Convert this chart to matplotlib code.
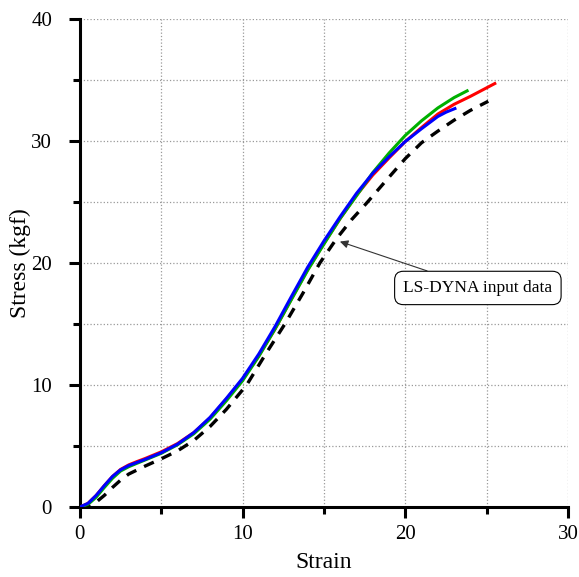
"""
Curva esfuerzo-deformacion: simulaciones vs datos de entrada LS-DYNA
"""
import numpy as np
import matplotlib.pyplot as plt

# curvas
x_azul = [0, 0.5, 1.0, 1.5, 2.0, 2.5, 3.0, 3.5, 4.0, 5.0, 6.0, 7.0, 8.0, 9.0, 10.0, 11.0,
          12.0, 13.0, 14.0, 15.0, 16.0, 17.0, 18.0, 19.0, 20.0, 21.0, 22.0, 22.5, 23.05]
y_azul = [0, 0.3, 0.95, 1.75, 2.5, 3.05, 3.4, 3.65, 3.9, 4.45, 5.15, 6.1, 7.35, 8.9, 10.55, 12.55,
          14.8, 17.25, 19.65, 21.8, 23.8, 25.7, 27.35, 28.7, 29.95, 31.0, 32.0, 32.35, 32.65]

x_verde = [0, 0.5, 1.0, 1.5, 2.0, 2.5, 3.0, 3.5, 4.0, 5.0, 6.0, 7.0, 8.0, 9.0, 10.0, 11.0,
           12.0, 13.0, 14.0, 15.0, 16.0, 17.0, 18.0, 19.0, 20.0, 21.0, 22.0, 23.0, 23.8]
y_verde = [0, 0.22, 0.8, 1.6, 2.35, 2.95, 3.3, 3.58, 3.85, 4.4, 5.1, 6.0, 7.2, 8.7, 10.35, 12.35,
           14.6, 17.0, 19.4, 21.55, 23.65, 25.5, 27.4, 29.0, 30.45, 31.65, 32.7, 33.55, 34.1]

x_rojo = [0, 0.5, 1.0, 1.5, 2.0, 2.5, 3.0, 3.5, 4.0, 5.0, 6.0, 7.0, 8.0, 9.0, 10.0, 11.0,
          12.0, 13.0, 14.0, 15.0, 16.0, 17.0, 18.0, 19.0, 20.0, 21.0, 22.0, 23.0, 24.0, 25.0, 25.5]
y_rojo = [0, 0.3, 0.95, 1.75, 2.5, 3.08, 3.45, 3.72, 3.97, 4.52, 5.2, 6.1, 7.3, 8.85, 10.45, 12.4,
          14.6, 17.05, 19.45, 21.6, 23.65, 25.55, 27.2, 28.6, 29.95, 31.1, 32.2, 33.0, 33.65, 34.35, 34.7]

x_lsdyna = [0, 0.5, 1.0, 1.5, 2.0, 2.5, 3.0, 4.0, 5.0, 6.0, 7.0, 8.0, 9.0, 10.25, 11.4,
            12.6, 13.7, 14.75, 15.78, 16.7, 17.62, 18.85, 20.0, 21.0, 22.0, 23.0, 24.0, 25.1]
y_lsdyna = [0, 0.08, 0.4, 0.95, 1.6, 2.2, 2.7, 3.35, 3.95, 4.6, 5.45, 6.6, 8.0, 10.0, 12.5,
            15.0, 17.5, 20.0, 22.0, 23.55, 24.9, 26.8, 28.55, 29.85, 30.8, 31.7, 32.5, 33.25]

plt.rcParams['font.family'] = ['Liberation Serif', 'DejaVu Serif']

fig = plt.figure(figsize=(5.79, 5.77), dpi=100)
ax = fig.add_axes([0.138, 0.1213, 0.843, 0.846])

ax.plot(x_lsdyna, y_lsdyna, color='k', lw=2.4, ls=(0, (3.2, 2.6)), zorder=3)
ax.plot(x_rojo, y_rojo, color='#ff0000', lw=2.2, zorder=4)
ax.plot(x_verde, y_verde, color='#00b000', lw=2.2, zorder=5)
ax.plot(x_azul, y_azul, color='#0000ff', lw=2.2, zorder=6)

ax.set_xlim(0, 30)
ax.set_ylim(0, 40)
ax.set_xticks([0, 10, 20, 30])
ax.set_yticks([0, 10, 20, 30, 40])
ax.set_xticks([5, 15, 25], minor=True)
ax.set_yticks([5, 15, 25, 35], minor=True)

ax.grid(True, which='both', color='#999999', ls=':', lw=0.9)
ax.set_axisbelow(True)

for s in ['top', 'right']:
    ax.spines[s].set_visible(False)
for s in ['left', 'bottom']:
    ax.spines[s].set_linewidth(2.2)

ax.tick_params(which='major', direction='out', length=8, width=2.2, labelsize=15)
ax.tick_params(which='minor', direction='out', length=5, width=2.2)
ax.tick_params(axis='x', which='major', pad=5)
ax.tick_params(axis='y', which='major', pad=12)

ax.set_xlabel('Strain', fontsize=17, labelpad=6)
ax.set_ylabel('Stress (kgf)', fontsize=17, labelpad=0)

ax.annotate('LS-DYNA input data', xy=(15.98, 21.75), xytext=(24.46, 17.95),
            fontsize=12.5, ha='center', va='center',
            bbox=dict(boxstyle='round,pad=0.5,rounding_size=0.5', fc='white', ec='k', lw=0.8),
            arrowprops=dict(arrowstyle='-|>', color='#333333', lw=0.8, shrinkA=0, shrinkB=0,
                            mutation_scale=12),
            zorder=7)

fig.savefig('out.png', dpi=100)
